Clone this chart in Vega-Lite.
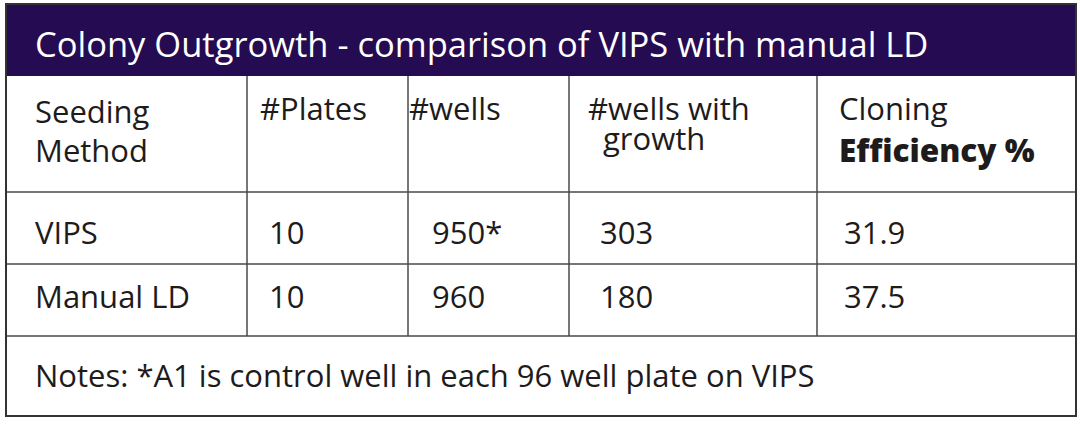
{
  "$schema": "https://vega.github.io/schema/vega-lite/v6.json",
  "width": 1080,
  "height": 425,
  "padding": 0,
  "autosize": {"type": "none"},
  "background": "white",
  "config": {
    "view": {"stroke": null},
    "text": {"font": "Open Sans", "fontSize": 31, "color": "#1e1b1c", "align": "left", "baseline": "alphabetic"}
  },
  "datasets": {
    "table": [
      {"method": "VIPS", "plates": "10", "wells": "950*", "growth": "303", "efficiency": "31.9"},
      {"method": "Manual LD", "plates": "10", "wells": "960", "growth": "180", "efficiency": "37.5"}
    ],
    "header": [
      {"col": 0, "line1": "Seeding", "line2": "Method"},
      {"col": 1, "line1": "#Plates", "line2": ""},
      {"col": 2, "line1": "#wells", "line2": ""},
      {"col": 3, "line1": "#wells with", "line2": "growth"},
      {"col": 4, "line1": "Cloning", "line2": "Efficiency %"}
    ],
    "grid": [
      {"c1": 1, "c2": 1, "r1": 1, "r2": 4},
      {"c1": 2, "c2": 2, "r1": 1, "r2": 4},
      {"c1": 3, "c2": 3, "r1": 1, "r2": 4},
      {"c1": 4, "c2": 4, "r1": 1, "r2": 4},
      {"c1": 0, "c2": 5, "r1": 2, "r2": 2},
      {"c1": 0, "c2": 5, "r1": 3, "r2": 3},
      {"c1": 0, "c2": 5, "r1": 4, "r2": 4}
    ],
    "title": [{"text": "Colony Outgrowth - comparison of VIPS with manual LD"}],
    "notes": [{"text": "Notes: *A1 is control well in each 96 well plate on VIPS"}]
  },
  "resolve": {"scale": {"x": "independent", "y": "independent"}},
  "layer": [
    {
      "data": {"name": "title"},
      "mark": {"type": "rect", "color": "#250c52"},
      "encoding": {
        "x": {"datum": 0, "scale": {"domain": [0, 1, 2, 3, 4, 5], "range": [6, 247, 408, 569, 817, 1076]}, "axis": null},
        "x2": {"datum": 5},
        "y": {"datum": 0, "scale": {"domain": [0, 1, 2, 3, 4, 5], "range": [4, 76, 192, 264, 336, 416]}, "axis": null},
        "y2": {"datum": 1}
      }
    },
    {
      "data": {"name": "grid"},
      "mark": {"type": "rule", "color": "#4a4a4a", "strokeWidth": 1.5},
      "encoding": {
        "x": {"field": "c1", "type": "quantitative", "scale": {"domain": [0, 1, 2, 3, 4, 5], "range": [6, 247, 408, 569, 817, 1076]}, "axis": null},
        "x2": {"field": "c2"},
        "y": {"field": "r1", "type": "quantitative", "scale": {"domain": [0, 1, 2, 3, 4, 5], "range": [4, 76, 192, 264, 336, 416]}, "axis": null},
        "y2": {"field": "r2"}
      }
    },
    {
      "data": {"name": "title"},
      "mark": {"type": "rect", "fill": null, "stroke": "#333333", "strokeWidth": 2},
      "encoding": {
        "x": {"datum": 0, "scale": {"domain": [0, 1, 2, 3, 4, 5], "range": [6, 247, 408, 569, 817, 1076]}, "axis": null},
        "x2": {"datum": 5},
        "y": {"datum": 0, "scale": {"domain": [0, 1, 2, 3, 4, 5], "range": [4, 76, 192, 264, 336, 416]}, "axis": null},
        "y2": {"datum": 5}
      }
    },
    {
      "data": {"name": "title"},
      "mark": {"type": "text", "color": "white", "fontSize": 34.5, "dx": 29, "dy": 53},
      "encoding": {
        "text": {"field": "text"},
        "x": {"datum": 0, "scale": {"domain": [0, 1, 2, 3, 4, 5], "range": [6, 247, 408, 569, 817, 1076]}, "axis": null},
        "y": {"datum": 0, "scale": {"domain": [0, 1, 2, 3, 4, 5], "range": [4, 76, 192, 264, 336, 416]}, "axis": null}
      }
    },
    {
      "data": {"name": "notes"},
      "mark": {"type": "text", "dx": 29, "dy": 51},
      "encoding": {
        "text": {"field": "text"},
        "x": {"datum": 0, "scale": {"domain": [0, 1, 2, 3, 4, 5], "range": [6, 247, 408, 569, 817, 1076]}, "axis": null},
        "y": {"datum": 4, "scale": {"domain": [0, 1, 2, 3, 4, 5], "range": [4, 76, 192, 264, 336, 416]}, "axis": null}
      }
    },
    {
      "data": {"name": "header"},
      "transform": [{"filter": "datum.col == 0"}],
      "mark": {"type": "text", "dx": 29, "dy": 47},
      "encoding": {
        "text": {"field": "line1"},
        "x": {"field": "col", "type": "quantitative", "scale": {"domain": [0, 1, 2, 3, 4, 5], "range": [6, 247, 408, 569, 817, 1076]}, "axis": null},
        "y": {"datum": 1, "scale": {"domain": [0, 1, 2, 3, 4, 5], "range": [4, 76, 192, 264, 336, 416]}, "axis": null}
      }
    },
    {
      "data": {"name": "header"},
      "transform": [{"filter": "datum.col == 0"}],
      "mark": {"type": "text", "dx": 29, "dy": 86},
      "encoding": {
        "text": {"field": "line2"},
        "x": {"field": "col", "type": "quantitative", "scale": {"domain": [0, 1, 2, 3, 4, 5], "range": [6, 247, 408, 569, 817, 1076]}, "axis": null},
        "y": {"datum": 1, "scale": {"domain": [0, 1, 2, 3, 4, 5], "range": [4, 76, 192, 264, 336, 416]}, "axis": null}
      }
    },
    {
      "data": {"name": "header"},
      "transform": [{"filter": "datum.col == 1"}],
      "mark": {"type": "text", "dx": 13, "dy": 44},
      "encoding": {
        "text": {"field": "line1"},
        "x": {"field": "col", "type": "quantitative", "scale": {"domain": [0, 1, 2, 3, 4, 5], "range": [6, 247, 408, 569, 817, 1076]}, "axis": null},
        "y": {"datum": 1, "scale": {"domain": [0, 1, 2, 3, 4, 5], "range": [4, 76, 192, 264, 336, 416]}, "axis": null}
      }
    },
    {
      "data": {"name": "header"},
      "transform": [{"filter": "datum.col == 2"}],
      "mark": {"type": "text", "dx": 1, "dy": 44},
      "encoding": {
        "text": {"field": "line1"},
        "x": {"field": "col", "type": "quantitative", "scale": {"domain": [0, 1, 2, 3, 4, 5], "range": [6, 247, 408, 569, 817, 1076]}, "axis": null},
        "y": {"datum": 1, "scale": {"domain": [0, 1, 2, 3, 4, 5], "range": [4, 76, 192, 264, 336, 416]}, "axis": null}
      }
    },
    {
      "data": {"name": "header"},
      "transform": [{"filter": "datum.col == 3"}],
      "mark": {"type": "text", "dx": 19, "dy": 44},
      "encoding": {
        "text": {"field": "line1"},
        "x": {"field": "col", "type": "quantitative", "scale": {"domain": [0, 1, 2, 3, 4, 5], "range": [6, 247, 408, 569, 817, 1076]}, "axis": null},
        "y": {"datum": 1, "scale": {"domain": [0, 1, 2, 3, 4, 5], "range": [4, 76, 192, 264, 336, 416]}, "axis": null}
      }
    },
    {
      "data": {"name": "header"},
      "transform": [{"filter": "datum.col == 3"}],
      "mark": {"type": "text", "dx": 34, "dy": 74},
      "encoding": {
        "text": {"field": "line2"},
        "x": {"field": "col", "type": "quantitative", "scale": {"domain": [0, 1, 2, 3, 4, 5], "range": [6, 247, 408, 569, 817, 1076]}, "axis": null},
        "y": {"datum": 1, "scale": {"domain": [0, 1, 2, 3, 4, 5], "range": [4, 76, 192, 264, 336, 416]}, "axis": null}
      }
    },
    {
      "data": {"name": "header"},
      "transform": [{"filter": "datum.col == 4"}],
      "mark": {"type": "text", "dx": 22, "dy": 44},
      "encoding": {
        "text": {"field": "line1"},
        "x": {"field": "col", "type": "quantitative", "scale": {"domain": [0, 1, 2, 3, 4, 5], "range": [6, 247, 408, 569, 817, 1076]}, "axis": null},
        "y": {"datum": 1, "scale": {"domain": [0, 1, 2, 3, 4, 5], "range": [4, 76, 192, 264, 336, 416]}, "axis": null}
      }
    },
    {
      "data": {"name": "header"},
      "transform": [{"filter": "datum.col == 4"}],
      "mark": {"type": "text", "dx": 22, "dy": 86, "fontWeight": 800, "fontSize": 31.5},
      "encoding": {
        "text": {"field": "line2"},
        "x": {"field": "col", "type": "quantitative", "scale": {"domain": [0, 1, 2, 3, 4, 5], "range": [6, 247, 408, 569, 817, 1076]}, "axis": null},
        "y": {"datum": 1, "scale": {"domain": [0, 1, 2, 3, 4, 5], "range": [4, 76, 192, 264, 336, 416]}, "axis": null}
      }
    },
    {
      "data": {"name": "table"},
      "mark": {"type": "text", "dx": 29},
      "encoding": {
        "text": {"field": "method"},
        "x": {"datum": 0, "scale": {"domain": [0, 1, 2, 3, 4, 5], "range": [6, 247, 408, 569, 817, 1076]}, "axis": null},
        "y": {"field": "method", "type": "nominal", "scale": {"type": "point", "domain": ["VIPS", "Manual LD"], "range": [244, 308], "padding": 0}, "axis": null}
      }
    },
    {
      "data": {"name": "table"},
      "mark": {"type": "text", "dx": 22},
      "encoding": {
        "text": {"field": "plates"},
        "x": {"datum": 1, "scale": {"domain": [0, 1, 2, 3, 4, 5], "range": [6, 247, 408, 569, 817, 1076]}, "axis": null},
        "y": {"field": "method", "type": "nominal", "scale": {"type": "point", "domain": ["VIPS", "Manual LD"], "range": [244, 308], "padding": 0}, "axis": null}
      }
    },
    {
      "data": {"name": "table"},
      "mark": {"type": "text", "dx": 24},
      "encoding": {
        "text": {"field": "wells"},
        "x": {"datum": 2, "scale": {"domain": [0, 1, 2, 3, 4, 5], "range": [6, 247, 408, 569, 817, 1076]}, "axis": null},
        "y": {"field": "method", "type": "nominal", "scale": {"type": "point", "domain": ["VIPS", "Manual LD"], "range": [244, 308], "padding": 0}, "axis": null}
      }
    },
    {
      "data": {"name": "table"},
      "mark": {"type": "text", "dx": 31},
      "encoding": {
        "text": {"field": "growth"},
        "x": {"datum": 3, "scale": {"domain": [0, 1, 2, 3, 4, 5], "range": [6, 247, 408, 569, 817, 1076]}, "axis": null},
        "y": {"field": "method", "type": "nominal", "scale": {"type": "point", "domain": ["VIPS", "Manual LD"], "range": [244, 308], "padding": 0}, "axis": null}
      }
    },
    {
      "data": {"name": "table"},
      "mark": {"type": "text", "dx": 27},
      "encoding": {
        "text": {"field": "efficiency"},
        "x": {"datum": 4, "scale": {"domain": [0, 1, 2, 3, 4, 5], "range": [6, 247, 408, 569, 817, 1076]}, "axis": null},
        "y": {"field": "method", "type": "nominal", "scale": {"type": "point", "domain": ["VIPS", "Manual LD"], "range": [244, 308], "padding": 0}, "axis": null}
      }
    }
  ]
}
